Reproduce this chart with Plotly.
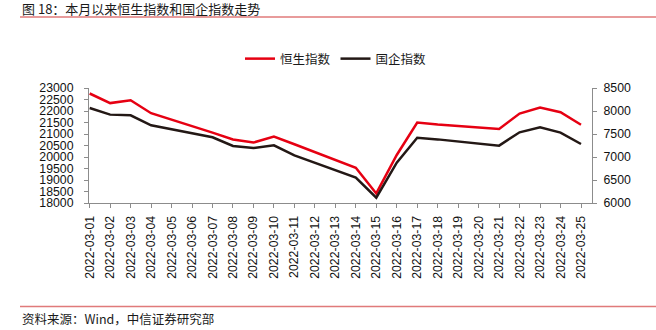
import plotly.graph_objects as go

dates = ["2022-03-01", "2022-03-02", "2022-03-03", "2022-03-04", "2022-03-07",
         "2022-03-08", "2022-03-09", "2022-03-10", "2022-03-11", "2022-03-14",
         "2022-03-15", "2022-03-16", "2022-03-17", "2022-03-18", "2022-03-21",
         "2022-03-22", "2022-03-23", "2022-03-24", "2022-03-25"]
hsi = [22761, 22343, 22467, 21905, 21058, 20765, 20627, 20890, 20554, 19531,
       18415, 20087, 21501, 21412, 21221, 21889, 22154, 21946, 21404]
hscei = [8065, 7921, 7906, 7689, 7428, 7239, 7196, 7254, 7037, 6552,
         6117, 6878, 7418, 7383, 7247, 7537, 7646, 7530, 7283]
tick_labels = ["2022-03-%02d" % d for d in range(1, 26)]

RED = "#e60012"
BLACK = "#231815"
AXIS = "#8c8c8c"
FONT = "Liberation Sans, Arial, Noto Sans CJK SC"
CJK = "Noto Sans CJK SC, Liberation Sans"

fig = go.Figure()
fig.add_trace(go.Scatter(x=dates, y=hsi, name="恒生指数", mode="lines",
                         line=dict(color=RED, width=2.5)))
fig.add_trace(go.Scatter(x=dates, y=hscei, name="国企指数", mode="lines",
                         line=dict(color=BLACK, width=2.5), yaxis="y2"))

W, H = 656, 330
L, R, T, B = 89, 64, 88, 127
pw, ph = W - L - R, H - T - B


def px(x):
    return (x - L) / pw


def py(y):
    return (H - B - y) / ph


fig.update_layout(
    width=W, height=H,
    margin=dict(l=L, r=R, t=T, b=B, pad=0),
    paper_bgcolor="white", plot_bgcolor="white",
    font=dict(family=FONT, color="#000000", size=12.3),
    showlegend=True,
    legend=dict(orientation="h", x=px(240), y=py(59), xanchor="left", yanchor="middle",
                font=dict(family=CJK, size=12.5, color="#1a1a1a"),
                bgcolor="rgba(0,0,0,0)", itemwidth=30, traceorder="normal"),
    xaxis=dict(type="date", range=["2022-02-28 23:12", "2022-03-25 12:54"],
               tickvals=tick_labels, ticktext=tick_labels, tickangle=-90,
               showgrid=False, zeroline=False, showline=True, linecolor=AXIS, linewidth=1,
               ticks="outside", ticklen=4, tickcolor=AXIS, ticklabelstandoff=3,
               tickfont=dict(family=FONT, size=12.3, color="#111111")),
    yaxis=dict(range=[18000, 23000], dtick=500, tick0=18000,
               showgrid=False, zeroline=False, showline=True, linecolor=AXIS, linewidth=1,
               ticks="outside", ticklen=4, tickcolor=AXIS, tickformat="d",
               ticklabelstandoff=8,
               tickfont=dict(family=FONT, size=12.3, color="#111111")),
    yaxis2=dict(range=[6000, 8500], dtick=500, tick0=6000, overlaying="y", side="right",
                showgrid=False, zeroline=False, showline=True, linecolor=AXIS, linewidth=1,
                ticks="outside", ticklen=4, tickcolor=AXIS, tickformat="d",
                ticklabelstandoff=4,
                tickfont=dict(family=FONT, size=12.3, color="#111111")),
    annotations=[
        dict(text="图 18：本月以来恒生指数和国企指数走势", xref="paper", yref="paper",
             x=px(20), y=py(8), xanchor="left", yanchor="middle", showarrow=False,
             font=dict(family=CJK, size=13, color="#1a1a1a")),
        dict(text="资料来源：Wind，中信证券研究部", xref="paper", yref="paper",
             x=px(20), y=py(318), xanchor="left", yanchor="middle", showarrow=False,
             font=dict(family=CJK, size=12.5, color="#1a1a1a")),
    ],
    shapes=[
        dict(type="line", xref="paper", yref="paper", x0=px(20), x1=px(656),
             y0=py(17), y1=py(17), line=dict(color="#e07a7a", width=1.3)),
        dict(type="line", xref="paper", yref="paper", x0=px(20), x1=px(656),
             y0=py(306.5), y1=py(306.5), line=dict(color="#e07a7a", width=1.3)),
    ],
)

fig.write_html("out.html")
